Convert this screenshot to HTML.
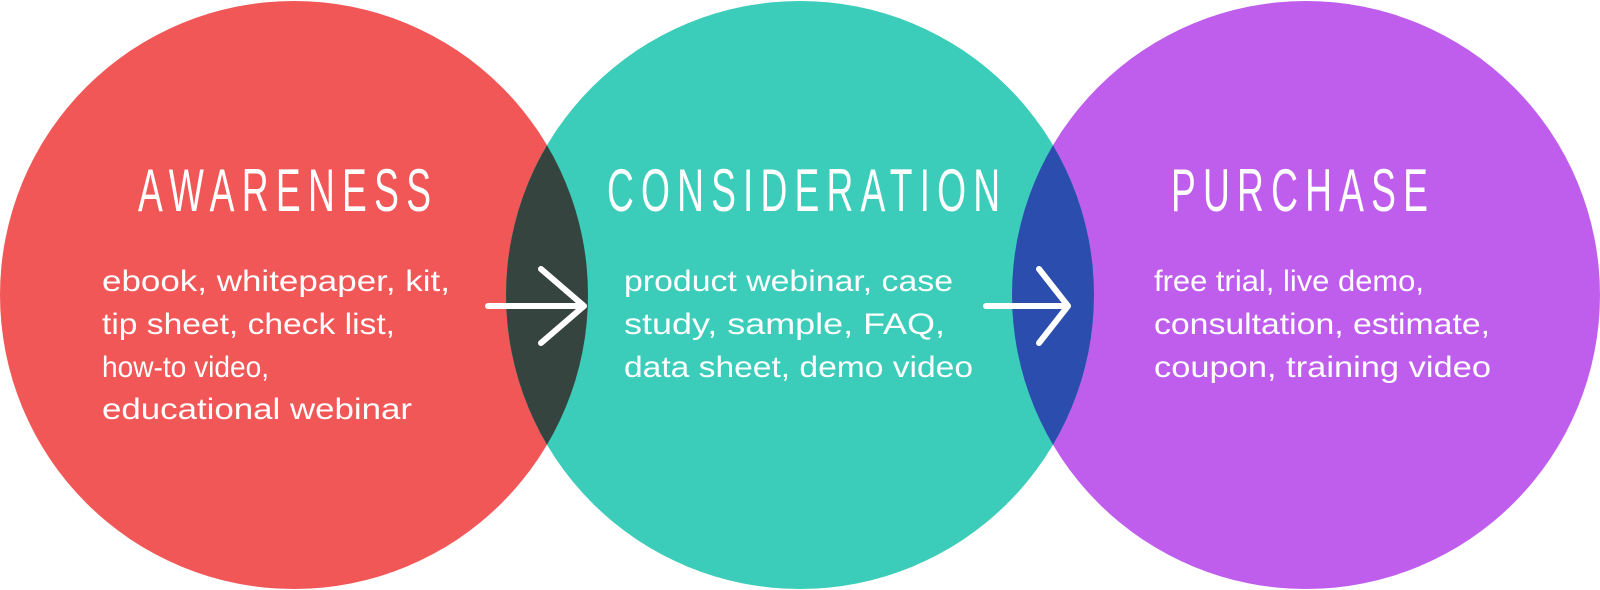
<!DOCTYPE html>
<html><head><meta charset="utf-8"><style>html,body{margin:0;padding:0;background:#fff}svg{display:block}</style></head>
<body>
<svg width="1600" height="590" viewBox="0 0 1600 590" xmlns="http://www.w3.org/2000/svg">
<defs>
<clipPath id="cr"><circle cx="294" cy="295" r="294"/></clipPath>
<clipPath id="ct"><circle cx="800" cy="295" r="294"/></clipPath>
</defs>
<circle cx="294" cy="295" r="294" fill="#f05756"/>
<circle cx="1306" cy="295" r="294" fill="#bf5eed"/>
<circle cx="800" cy="295" r="294" fill="#3bcdb9"/>
<circle cx="800" cy="295" r="294" fill="#36443f" clip-path="url(#cr)"/>
<circle cx="1306" cy="295" r="294" fill="#2b4eae" clip-path="url(#ct)"/>
<g stroke="#fff" stroke-width="6" stroke-linecap="round" stroke-linejoin="round" fill="none">
<line x1="488" y1="306" x2="582" y2="306"/><polyline points="541,269 584,306 541,343"/>
<line x1="986" y1="306" x2="1066" y2="306"/><polyline points="1039,269 1068,306 1039,343"/>
</g>
<g fill="#fff" font-family="Liberation Sans, sans-serif">
<g font-size="60" transform="scale(0.62,1)">
<text x="222.6" y="211" textLength="472.6" lengthAdjust="spacing">AWARENESS</text>
<text x="979" y="211" textLength="634" lengthAdjust="spacing">CONSIDERATION</text>
<text x="1888.7" y="211" textLength="414.5" lengthAdjust="spacing">PURCHASE</text>
</g>
<g font-size="30">
<text x="102" y="291" textLength="348" lengthAdjust="spacingAndGlyphs">ebook, whitepaper, kit,</text>
<text x="102" y="334" textLength="293" lengthAdjust="spacingAndGlyphs">tip sheet, check list,</text>
<text x="102" y="377" textLength="167" lengthAdjust="spacingAndGlyphs">how-to video,</text>
<text x="102" y="419" textLength="310" lengthAdjust="spacingAndGlyphs">educational webinar</text>
<text x="624" y="291" textLength="329" lengthAdjust="spacingAndGlyphs">product webinar, case</text>
<text x="624" y="334" textLength="321" lengthAdjust="spacingAndGlyphs">study, sample, FAQ,</text>
<text x="624" y="377" textLength="349" lengthAdjust="spacingAndGlyphs">data sheet, demo video</text>
<text x="1154" y="291" textLength="270" lengthAdjust="spacingAndGlyphs">free trial, live demo,</text>
<text x="1154" y="334" textLength="336" lengthAdjust="spacingAndGlyphs">consultation, estimate,</text>
<text x="1154" y="377" textLength="337" lengthAdjust="spacingAndGlyphs">coupon, training video</text>
</g>
</g>
</svg>
</body></html>
